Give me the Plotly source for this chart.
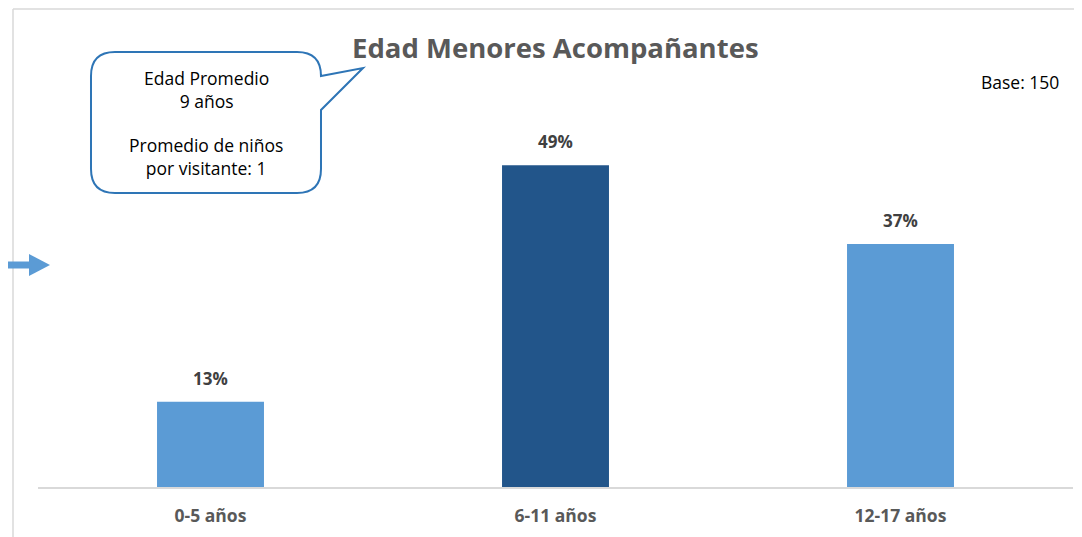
import plotly.graph_objects as go

categories = ["0-5 años", "6-11 años", "12-17 años"]
values = [13, 49, 37]
bar_colors = ["#5B9BD5", "#22558A", "#5B9BD5"]
labels = ["13%", "49%", "37%"]

# the page has an 8px body margin; lay out in reference pixel coords
OFF = 8
W, H = 1082 - OFF, 537 - OFF
FONT = "Open Sans, sans-serif"
GRAY = "#595959"

def px(x):
    return (x - OFF) / W

def py(y):
    return 1 - (y - OFF) / H

fig = go.Figure()
fig.add_trace(go.Bar(
    x=categories, y=values, marker=dict(color=bar_colors, line=dict(width=0)),
    hoverinfo="skip", showlegend=False,
))

annotations = []
for c, v, t in zip(categories, values, labels):
    annotations.append(dict(x=c, y=v, xref="x", yref="y", text=f"<b>{t}</b>",
                            showarrow=False, yanchor="bottom", yshift=10,
                            font=dict(family=FONT, size=17, color="#404040")))

def note(x, y, text, size, color, xanchor="center"):
    return dict(x=px(x), y=py(y), xref="paper", yref="paper", text=text,
                showarrow=False, xanchor=xanchor, yanchor="middle",
                font=dict(family=FONT, size=size, color=color))

annotations += [
    note(555, 47, "<b>Edad Menores Acompañantes</b>", 27.5, GRAY),
    note(1061, 82, "Base: 150", 17.5, "#000000", xanchor="right"),
    note(206, 89, "Edad Promedio<br>9 años", 17.5, "#000000"),
    note(206, 156, "Promedio de niños<br>por visitante: 1", 17.5, "#000000"),
]

def P(x, y):
    return f"{px(x):.5f},{py(y):.5f}"

L, R, T, B, r = 91, 321, 52, 193, 24
callout = (
    f"M {P(L+r, T)} L {P(R-r, T)} Q {P(R, T)} {P(R, T+r)} "
    f"L {P(R, 76)} L {P(363, 68)} L {P(R, 110)} "
    f"L {P(R, B-r)} Q {P(R, B)} {P(R-r, B)} "
    f"L {P(L+r, B)} Q {P(L, B)} {P(L, B-r)} "
    f"L {P(L, T+r)} Q {P(L, T)} {P(L+r, T)} Z"
)

arrow_head = f"M {P(29, 254)} L {P(50, 265)} L {P(29, 276)} Z"

shapes = [
    # chart frame
    dict(type="line", xref="paper", yref="paper", x0=px(13), x1=px(13), y0=0, y1=py(9),
         line=dict(color="#D9D9D9", width=1.5)),
    dict(type="line", xref="paper", yref="paper", x0=px(13), x1=1, y0=py(9), y1=py(9),
         line=dict(color="#D9D9D9", width=1.5)),
    # callout
    dict(type="path", xref="paper", yref="paper", path=callout, layer="below",
         fillcolor="white", line=dict(color="#2E75B6", width=2)),
    # arrow
    dict(type="line", xref="paper", yref="paper", x0=px(OFF), x1=px(30), y0=py(265), y1=py(265),
         line=dict(color="#5B9BD5", width=7)),
    dict(type="path", xref="paper", yref="paper", path=arrow_head,
         fillcolor="#5B9BD5", line=dict(color="#5B9BD5", width=0)),
]

fig.update_layout(
    width=W, height=H,
    margin=dict(l=0, r=0, t=0, b=0),
    paper_bgcolor="white", plot_bgcolor="rgba(0,0,0,0)",
    bargap=0.69,
    annotations=annotations,
    shapes=shapes,
    xaxis=dict(domain=[px(38), px(1073)], showgrid=False, zeroline=False,
               showline=True, linecolor="#D9D9D9", linewidth=1.5,
               ticks="", ticklabelstandoff=12,
               tickfont=dict(family=FONT, size=17.5, color=GRAY),
               tickprefix="<b>", ticksuffix="</b>", fixedrange=True),
    yaxis=dict(domain=[py(487), py(93)], range=[0, 60], visible=False,
               showgrid=False, zeroline=False, fixedrange=True),
)

fig.write_html("out.html")
